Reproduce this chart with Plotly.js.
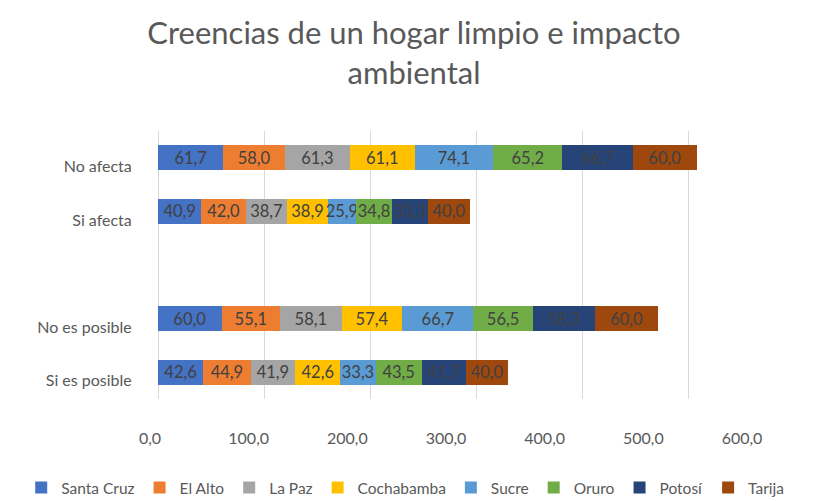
<!DOCTYPE html>
<html><head><meta charset="utf-8">
<script src="https://cdn.plot.ly/plotly-3.0.1.min.js"></script>
<style>body{margin:0;background:#fff}#c{width:828px;height:501px}</style>
</head><body><div id="c"></div>
<script>
// Categories (bottom to top); the blank entry is the empty slot between the two groups
const categories = ["Si es posible", "No es posible", " ", "Si afecta", "No afecta"];
const barCategories = ["Si es posible", "No es posible", "Si afecta", "No afecta"];

const cities = ["Santa Cruz", "El Alto", "La Paz", "Cochabamba", "Sucre", "Oruro", "Potosí", "Tarija"];
const colors = ["#4472C4", "#ED7D31", "#A5A5A5", "#FFC000", "#5B9BD5", "#70AD47", "#264478", "#9E480E"];

// values per city, in order of barCategories
const santaCruz  = [42.6, 60.0, 40.9, 61.7];
const elAlto     = [44.9, 55.1, 42.0, 58.0];
const laPaz      = [41.9, 58.1, 38.7, 61.3];
const cochabamba = [42.6, 57.4, 38.9, 61.1];
const sucre      = [33.3, 66.7, 25.9, 74.1];
const oruro      = [43.5, 56.5, 34.8, 65.2];
const potosi     = [41.7, 58.3, 33.3, 66.7];
const tarija     = [40.0, 60.0, 40.0, 60.0];
const seriesValues = [santaCruz, elAlto, laPaz, cochabamba, sucre, oruro, potosi, tarija];

const xTicks = [0, 100, 200, 300, 400, 500, 600];

const font = "Lato, 'Open Sans', sans-serif";

const traces = cities.map((name, i) => ({
  type: "bar",
  orientation: "h",
  name: name,
  y: barCategories,
  x: seriesValues[i],
  marker: { color: colors[i], line: { width: 0 } },
  text: seriesValues[i].map(v => v.toFixed(1).replace(".", ",")),
  textposition: "inside",
  insidetextanchor: "middle",
  constraintext: "none",
  textfont: { family: font, size: 16.5, color: "#404040" },
  hoverinfo: "skip"
}));

// carrier for the label axes
traces.push({ type: "scatter", x: [], y: [], xaxis: "x2", yaxis: "y2", showlegend: false, hoverinfo: "skip" });

const layout = {
  width: 828, height: 501,
  paper_bgcolor: "#fff", plot_bgcolor: "#fff",
  margin: { l: 150, r: 34, t: 131, b: 102, autoexpand: false },
  separators: ", ",
  barmode: "stack",
  bargap: 0.53,
  title: {
    text: "Creencias de un hogar limpio e impacto<br>ambiental",
    font: { family: font, size: 31, color: "#595959" },
    x: 0.5, xanchor: "center", yref: "container", y: 0.913, yanchor: "middle"
  },
  xaxis: {
    range: [-7.55, 600],
    tickvals: xTicks,
    showticklabels: false,
    showgrid: true, gridcolor: "#d9d9d9", gridwidth: 1,
    zeroline: false, showline: false, ticks: ""
  },
  xaxis2: {
    overlaying: "x", anchor: "y", side: "bottom",
    range: [0, 652.7],
    tickvals: xTicks,
    tickformat: ".1f",
    showgrid: false, zeroline: false, showline: false,
    ticks: "outside", ticklen: 25, tickcolor: "rgba(0,0,0,0)",
    tickfont: { family: font, size: 16, color: "#595959" }
  },
  yaxis: {
    type: "category",
    categoryorder: "array",
    categoryarray: categories,
    range: [-0.5, 4.5],
    showticklabels: false,
    showgrid: false, zeroline: false, showline: false, ticks: ""
  },
  yaxis2: {
    overlaying: "y", anchor: "x", side: "left",
    type: "linear",
    range: [-0.34, 4.66],
    tickvals: categories.map((c, i) => i),
    ticktext: categories,
    showgrid: false, zeroline: false, showline: false,
    ticks: "outside", ticklen: 14, tickcolor: "rgba(0,0,0,0)",
    tickfont: { family: font, size: 16, color: "#595959" }
  },
  legend: {
    orientation: "h", x: -0.2, xanchor: "left", y: -0.332, yanchor: "middle",
    font: { family: font, size: 15.5, color: "#595959" },
    traceorder: "normal", itemwidth: 30
  },
  showlegend: true
};

Plotly.newPlot("c", traces, layout, { displayModeBar: false, staticPlot: true });
</script>
</body></html>
